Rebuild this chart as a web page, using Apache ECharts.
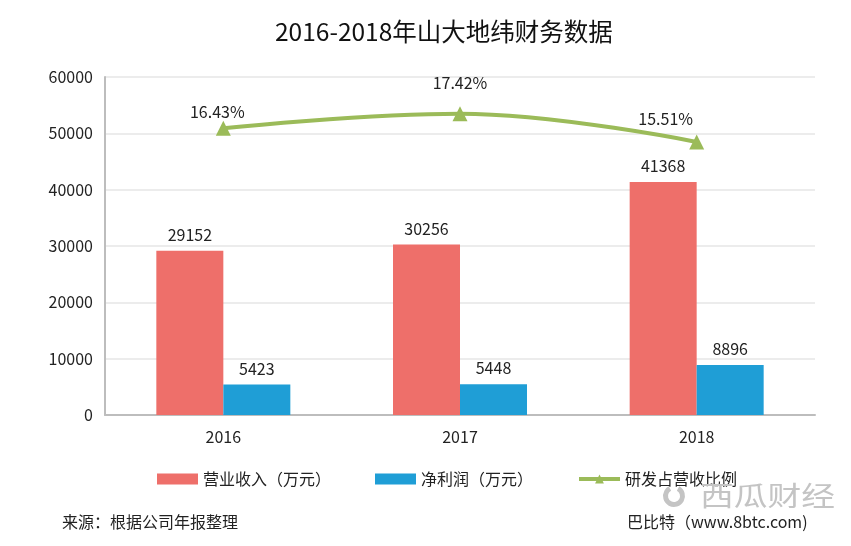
<!DOCTYPE html>
<html><head><meta charset="utf-8">
<script src="https://cdn.jsdelivr.net/npm/echarts@6/dist/echarts.min.js"></script>
<style>html,body{margin:0;padding:0;background:#fff}#c{width:851px;height:546px}</style>
</head><body><div id="c"></div>
<script>
const categories = ['2016', '2017', '2018'];
const revenue = [29152, 30256, 41368];
const netProfit = [5423, 5448, 8896];
const rdRatio = [16.43, 17.42, 15.51];
const yTicks = [0, 10000, 20000, 30000, 40000, 50000, 60000];

const FONT = '"Noto Sans CJK SC", "Noto Sans", sans-serif';
// per-point label nudges (style only), matching the reference placement
const lineLabelOffsets = [[-6, 9], [0, -5], [-31, 2]];
const chart = echarts.init(document.getElementById('c'));
chart.setOption({
  backgroundColor: '#fff',
  textStyle: { fontFamily: FONT },
  title: {
    text: '2016-2018年山大地纬财务数据',
    left: 270, top: 14,
    textStyle: { fontSize: 24.5, fontWeight: 'normal', color: '#111', fontFamily: FONT }
  },
  legend: {
    bottom: 54, left: 152,
    itemWidth: 41, itemHeight: 11, itemGap: 44,
    textStyle: { fontSize: 16, color: '#222', fontFamily: FONT },
    data: [
      { name: '营业收入（万元）', icon: 'rect' },
      { name: '净利润（万元）', icon: 'rect' },
      { name: '研发占营收比例', lineStyle: { width: 4 } }
    ]
  },
  grid: { left: 105, right: 36, top: 77, bottom: 131 },
  xAxis: {
    type: 'category', data: categories,
    axisLine: { lineStyle: { color: '#bdbdbd', width: 2 } },
    axisTick: { show: false },
    axisLabel: { fontSize: 16, color: '#222', margin: 14, fontFamily: FONT }
  },
  yAxis: [{
    type: 'value', min: yTicks[0], max: yTicks[yTicks.length - 1], interval: 10000,
    axisLine: { show: true, lineStyle: { color: '#bdbdbd', width: 2 } },
    axisTick: { show: false },
    splitLine: { lineStyle: { color: '#ececec', width: 2 } },
    axisLabel: { fontSize: 16, color: '#222', margin: 12, fontFamily: FONT, formatter: v => String(v) }
  }, {
    type: 'value', min: -2.94, max: 19.9, show: false, splitLine: { show: false }
  }],
  series: [{
    name: '营业收入（万元）', type: 'bar', data: revenue,
    barWidth: 67, barGap: '0%',
    itemStyle: { color: '#EE6F6A' },
    label: { show: true, position: 'top', distance: 8, fontSize: 16, color: '#222', fontFamily: FONT }
  }, {
    name: '净利润（万元）', type: 'bar', data: netProfit,
    barWidth: 67,
    itemStyle: { color: '#1F9ED6' },
    label: { show: true, position: 'top', distance: 8, fontSize: 16, color: '#222', fontFamily: FONT }
  }, {
    name: '研发占营收比例', type: 'line', yAxisIndex: 1,
    data: rdRatio.map((v, i) => ({ value: v, label: { offset: lineLabelOffsets[i] } })),
    smooth: 0.4, symbol: 'triangle', symbolSize: 15,
    lineStyle: { color: '#9BBB59', width: 4 },
    itemStyle: { color: '#9BBB59' },
    label: { show: true, position: 'top', distance: 10, fontSize: 16, color: '#222', fontFamily: FONT,
      formatter: p => p.value.toFixed(2) + '%' }
  }],
  graphic: [
    { type: 'text', left: 62, top: 514, style: { text: '来源：根据公司年报整理', fontSize: 16, fill: '#222', fontFamily: FONT } },
    { type: 'text', left: 627, top: 514, style: { text: '巴比特（www.8btc.com)', fontSize: 16, fill: '#222', fontFamily: FONT } },
    { type: 'arc', shape: { cx: 674, cy: 496, r: 8.5, startAngle: -Math.PI / 2 + 0.5, endAngle: 3 * Math.PI / 2 - 0.5, clockwise: true },
      style: { fill: 'none', stroke: '#c4c4c4', lineWidth: 5 }, z: 10 },
    { type: 'text', x: 700, y: 482, scaleX: 1.25, style: { text: '西瓜财经', fontSize: 27, fill: '#c4c4c4', fontFamily: FONT }, z: 10 }
  ]
});
</script></body></html>
